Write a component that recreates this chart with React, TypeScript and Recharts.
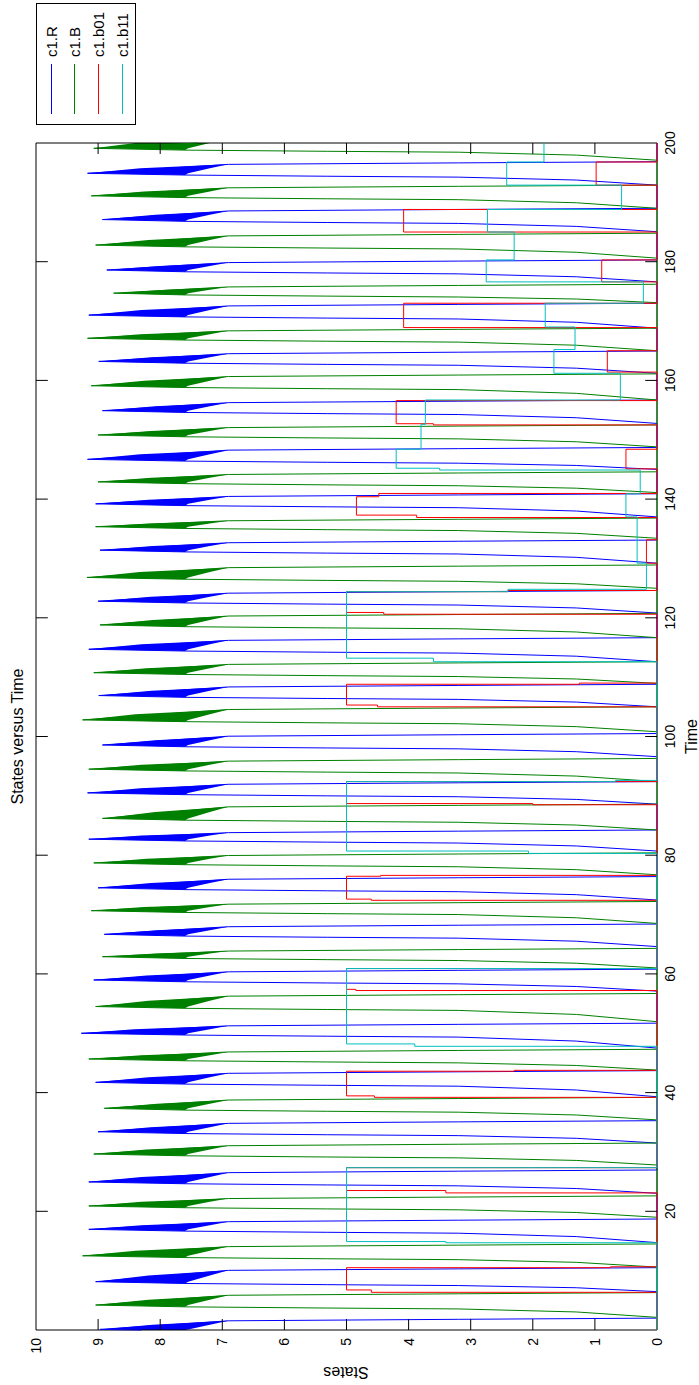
import { ComposedChart, Line, Area, XAxis, YAxis, ReferenceLine, ReferenceArea } from "recharts"

// MATLAB "States versus Time" plot, drawn upright and turned -90deg like the source image
const FONT = "'Liberation Sans', Arial, sans-serif"

const timeTicks = [20, 40, 60, 80, 100, 120, 140, 160, 180, 200]
const stateTicks = [0, 1, 2, 3, 4, 5, 6, 7, 8, 9, 10]
const innerTimeTicks = [20, 40, 60, 80, 100, 120, 140, 160, 180]
const innerStateTicks = [1, 2, 3, 4, 5, 6, 7, 8, 9]

// c1.R (blue) [time, state]
const rTrace = [
  [0, 8.3], [0.1, 8.97], [1.55, 6.9], [1.8, 3.2], [2.0, 0],
  [6.46, 0], [7.12, 1.3], [7.49, 3.2], [7.64, 5.3], [7.84, 7.6], [8.14, 9.04], [10.05, 6.9], [10.3, 3.2], [10.5, 0],
  [14.72, 0], [15.74, 1.3], [16.31, 3.2], [16.46, 5.3], [16.66, 7.6], [16.96, 9.15], [18.25, 6.9], [18.5, 3.2], [18.7, 0],
  [23.03, 0], [23.84, 1.3], [24.29, 3.2], [24.44, 5.3], [24.64, 7.6], [24.94, 9.15], [26.51, 6.9], [26.76, 3.2], [26.96, 0],
  [31.5, 0], [32.3, 1.3], [32.75, 3.2], [32.9, 5.3], [33.1, 7.6], [33.4, 9.0], [34.82, 6.9], [35.07, 3.2], [35.27, 0],
  [39.3, 0], [40.44, 1.3], [41.08, 3.2], [41.23, 5.3], [41.43, 7.6], [41.73, 9.04], [43.25, 6.9], [43.5, 3.2], [43.7, 0],
  [47.5, 0], [48.68, 1.3], [49.35, 3.2], [49.5, 5.3], [49.7, 7.6], [50.0, 9.27], [51.25, 6.9], [51.5, 3.2], [51.7, 0],
  [57.1, 0], [57.88, 1.3], [58.32, 3.2], [58.47, 5.3], [58.67, 7.6], [58.97, 9.07], [60.35, 6.9], [60.6, 3.2], [60.8, 0],
  [64.6, 0], [65.51, 1.3], [66.02, 3.2], [66.17, 5.3], [66.37, 7.6], [66.67, 8.9], [67.95, 6.9], [68.2, 3.2], [68.4, 0],
  [72.45, 0], [73.35, 1.3], [73.85, 3.2], [74.0, 5.3], [74.2, 7.6], [74.5, 9.0], [75.95, 6.9], [76.2, 3.2], [76.4, 0],
  [80.7, 0], [81.56, 1.3], [82.05, 3.2], [82.2, 5.3], [82.4, 7.6], [82.7, 9.15], [83.8, 6.9], [84.05, 3.2], [84.25, 0],
  [88.6, 0], [89.4, 1.3], [89.85, 3.2], [90.0, 5.3], [90.2, 7.6], [90.5, 9.17], [91.95, 6.9], [92.2, 3.2], [92.4, 0],
  [96.6, 0], [97.44, 1.3], [97.92, 3.2], [98.07, 5.3], [98.27, 7.6], [98.57, 8.93], [100.05, 6.9], [100.3, 3.2], [100.5, 0],
  [105.0, 0], [105.8, 1.3], [106.25, 3.2], [106.4, 5.3], [106.6, 7.6], [106.9, 8.99], [108.35, 6.9], [108.6, 3.2], [108.8, 0],
  [112.6, 0], [113.53, 1.3], [114.05, 3.2], [114.2, 5.3], [114.4, 7.6], [114.7, 9.15], [116.2, 6.9], [116.45, 3.2], [116.65, 0],
  [120.8, 0], [121.66, 1.3], [122.15, 3.2], [122.3, 5.3], [122.5, 7.6], [122.8, 9.0], [124.15, 6.9], [124.4, 3.2], [124.6, 0],
  [129.2, 0], [130.19, 1.3], [130.75, 3.2], [130.9, 5.3], [131.1, 7.6], [131.4, 8.97], [132.65, 6.9], [132.9, 3.2], [133.1, 0],
  [137.0, 0], [137.99, 1.3], [138.55, 3.2], [138.7, 5.3], [138.9, 7.6], [139.2, 9.04], [140.45, 6.9], [140.7, 3.2], [140.9, 0],
  [145.0, 0], [145.67, 1.3], [146.05, 3.2], [146.2, 5.3], [146.4, 7.6], [146.7, 9.17], [148.25, 6.9], [148.5, 3.2], [148.7, 0],
  [152.75, 0], [153.71, 1.3], [154.25, 3.2], [154.4, 5.3], [154.6, 7.6], [154.9, 8.93], [156.25, 6.9], [156.5, 3.2], [156.7, 0],
  [161.2, 0], [162.06, 1.3], [162.55, 3.2], [162.7, 5.3], [162.9, 7.6], [163.2, 8.99], [164.5, 6.9], [164.75, 3.2], [164.95, 0],
  [168.8, 0], [169.79, 1.3], [170.35, 3.2], [170.5, 5.3], [170.7, 7.6], [171.0, 9.15], [172.55, 6.9], [172.8, 3.2], [173.0, 0],
  [176.6, 0], [177.46, 1.3], [177.95, 3.2], [178.1, 5.3], [178.3, 7.6], [178.6, 8.86], [179.85, 6.9], [180.1, 3.2], [180.3, 0],
  [185.05, 0], [185.95, 1.3], [186.45, 3.2], [186.6, 5.3], [186.8, 7.6], [187.1, 8.93], [188.55, 6.9], [188.8, 3.2], [189.0, 0],
  [192.9, 0], [193.76, 1.3], [194.25, 3.2], [194.4, 5.3], [194.6, 7.6], [194.9, 9.17], [196.4, 6.9], [196.65, 3.2], [196.85, 0],
  [200, 0],
]

// noisy band near each c1.R peak [time, low, high]
const rNoise = [
  [0, 7.6, 8.3], [0.1, 7.55, 8.97], [0.9, 7.2, 8.12], [1.55, 6.9, 6.9],
  [7.84, 7.6, 7.6], [8.14, 7.55, 9.04], [9.19, 7.2, 8.19], [10.05, 6.9, 6.9],
  [16.66, 7.6, 7.6], [16.96, 7.55, 9.15], [17.67, 7.2, 8.3], [18.25, 6.9, 6.9],
  [24.64, 7.6, 7.6], [24.94, 7.55, 9.15], [25.8, 7.2, 8.3], [26.51, 6.9, 6.9],
  [33.1, 7.6, 7.6], [33.4, 7.55, 9.0], [34.18, 7.2, 8.15], [34.82, 6.9, 6.9],
  [41.43, 7.6, 7.6], [41.73, 7.55, 9.04], [42.57, 7.2, 8.19], [43.25, 6.9, 6.9],
  [49.7, 7.6, 7.6], [50.0, 7.55, 9.27], [50.69, 7.2, 8.42], [51.25, 6.9, 6.9],
  [58.67, 7.6, 7.6], [58.97, 7.55, 9.07], [59.73, 7.2, 8.22], [60.35, 6.9, 6.9],
  [66.37, 7.6, 7.6], [66.67, 7.55, 8.9], [67.37, 7.2, 8.05], [67.95, 6.9, 6.9],
  [74.2, 7.6, 7.6], [74.5, 7.55, 9.0], [75.3, 7.2, 8.15], [75.95, 6.9, 6.9],
  [82.4, 7.6, 7.6], [82.7, 7.55, 9.15], [83.3, 7.2, 8.3], [83.8, 6.9, 6.9],
  [90.2, 7.6, 7.6], [90.5, 7.55, 9.17], [91.3, 7.2, 8.32], [91.95, 6.9, 6.9],
  [98.27, 7.6, 7.6], [98.57, 7.55, 8.93], [99.38, 7.2, 8.08], [100.05, 6.9, 6.9],
  [106.6, 7.6, 7.6], [106.9, 7.55, 8.99], [107.7, 7.2, 8.14], [108.35, 6.9, 6.9],
  [114.4, 7.6, 7.6], [114.7, 7.55, 9.15], [115.53, 7.2, 8.3], [116.2, 6.9, 6.9],
  [122.5, 7.6, 7.6], [122.8, 7.55, 9.0], [123.54, 7.2, 8.15], [124.15, 6.9, 6.9],
  [131.1, 7.6, 7.6], [131.4, 7.55, 8.97], [132.09, 7.2, 8.12], [132.65, 6.9, 6.9],
  [138.9, 7.6, 7.6], [139.2, 7.55, 9.04], [139.89, 7.2, 8.19], [140.45, 6.9, 6.9],
  [146.4, 7.6, 7.6], [146.7, 7.55, 9.17], [147.55, 7.2, 8.32], [148.25, 6.9, 6.9],
  [154.6, 7.6, 7.6], [154.9, 7.55, 8.93], [155.64, 7.2, 8.08], [156.25, 6.9, 6.9],
  [162.9, 7.6, 7.6], [163.2, 7.55, 8.99], [163.92, 7.2, 8.14], [164.5, 6.9, 6.9],
  [170.7, 7.6, 7.6], [171.0, 7.55, 9.15], [171.85, 7.2, 8.3], [172.55, 6.9, 6.9],
  [178.3, 7.6, 7.6], [178.6, 7.55, 8.86], [179.29, 7.2, 8.01], [179.85, 6.9, 6.9],
  [186.8, 7.6, 7.6], [187.1, 7.55, 8.93], [187.9, 7.2, 8.08], [188.55, 6.9, 6.9],
  [194.6, 7.6, 7.6], [194.9, 7.55, 9.17], [195.73, 7.2, 8.32], [196.4, 6.9, 6.9],
]

// c1.B (green)
const bTrace = [
  [0, 0],
  [2.13, 0], [3.04, 1.3], [3.55, 3.2], [3.7, 5.3], [3.9, 7.6], [4.2, 9.04], [5.85, 6.9], [6.1, 3.2], [6.3, 0],
  [10.6, 0], [11.4, 1.3], [11.85, 3.2], [12.0, 5.3], [12.2, 7.6], [12.5, 9.25], [14.05, 6.9], [14.3, 3.2], [14.5, 0],
  [19.0, 0], [19.8, 1.3], [20.25, 3.2], [20.4, 5.3], [20.6, 7.6], [20.9, 9.15], [22.15, 6.9], [22.4, 3.2], [22.6, 0],
  [27.8, 0], [28.57, 1.3], [29.0, 3.2], [29.15, 5.3], [29.35, 7.6], [29.65, 9.07], [31.05, 6.9], [31.3, 3.2], [31.5, 0],
  [35.4, 0], [36.23, 1.3], [36.7, 3.2], [36.85, 5.3], [37.05, 7.6], [37.35, 8.9], [38.75, 6.9], [39.0, 3.2], [39.2, 0],
  [43.8, 0], [44.57, 1.3], [45.01, 3.2], [45.16, 5.3], [45.36, 7.6], [45.66, 9.15], [46.85, 6.9], [47.1, 3.2], [47.3, 0],
  [51.95, 0], [53.17, 1.3], [53.85, 3.2], [54.0, 5.3], [54.2, 7.6], [54.5, 9.04], [56.25, 6.9], [56.5, 3.2], [56.7, 0],
  [61.0, 0], [61.8, 1.3], [62.25, 3.2], [62.4, 5.3], [62.6, 7.6], [62.9, 8.93], [63.85, 6.9], [64.1, 3.2], [64.3, 0],
  [68.5, 0], [69.46, 1.3], [70.0, 3.2], [70.15, 5.3], [70.35, 7.6], [70.65, 9.11], [71.75, 6.9], [72.0, 3.2], [72.2, 0],
  [76.7, 0], [77.56, 1.3], [78.05, 3.2], [78.2, 5.3], [78.4, 7.6], [78.7, 9.07], [79.95, 6.9], [80.2, 3.2], [80.4, 0],
  [84.25, 0], [85.08, 1.3], [85.55, 3.2], [85.7, 5.3], [85.9, 7.6], [86.2, 8.93], [88.15, 6.9], [88.4, 3.2], [88.6, 0],
  [92.4, 0], [93.33, 1.3], [93.85, 3.2], [94.0, 5.3], [94.2, 7.6], [94.5, 9.15], [95.85, 6.9], [96.1, 3.2], [96.3, 0],
  [100.8, 0], [101.66, 1.3], [102.15, 3.2], [102.3, 5.3], [102.5, 7.6], [102.8, 9.25], [104.55, 6.9], [104.8, 3.2], [105.0, 0],
  [108.95, 0], [109.69, 1.3], [110.1, 3.2], [110.25, 5.3], [110.45, 7.6], [110.75, 9.07], [112.15, 6.9], [112.4, 3.2], [112.6, 0],
  [116.65, 0], [117.61, 1.3], [118.15, 3.2], [118.3, 5.3], [118.5, 7.6], [118.8, 8.97], [120.3, 6.9], [120.55, 3.2], [120.75, 0],
  [124.97, 0], [125.73, 1.3], [126.15, 3.2], [126.3, 5.3], [126.5, 7.6], [126.8, 9.18], [128.45, 6.9], [128.7, 3.2], [128.9, 0],
  [133.4, 0], [134.23, 1.3], [134.7, 3.2], [134.85, 5.3], [135.05, 7.6], [135.35, 9.04], [136.35, 6.9], [136.6, 3.2], [136.8, 0],
  [141.1, 0], [141.84, 1.3], [142.25, 3.2], [142.4, 5.3], [142.6, 7.6], [142.9, 9.0], [144.15, 6.9], [144.4, 3.2], [144.6, 0],
  [148.8, 0], [149.66, 1.3], [150.15, 3.2], [150.3, 5.3], [150.5, 7.6], [150.8, 9.0], [152.05, 6.9], [152.3, 3.2], [152.5, 0],
  [156.7, 0], [157.82, 1.3], [158.45, 3.2], [158.6, 5.3], [158.8, 7.6], [159.1, 9.11], [160.65, 6.9], [160.9, 3.2], [161.1, 0],
  [165.0, 0], [165.93, 1.3], [166.45, 3.2], [166.6, 5.3], [166.8, 7.6], [167.1, 9.17], [168.35, 6.9], [168.6, 3.2], [168.8, 0],
  [173.1, 0], [173.71, 1.3], [174.05, 3.2], [174.2, 5.3], [174.4, 7.6], [174.7, 8.75], [175.75, 6.9], [176.0, 3.2], [176.2, 0],
  [180.6, 0], [181.59, 1.3], [182.15, 3.2], [182.3, 5.3], [182.5, 7.6], [182.8, 9.04], [184.35, 6.9], [184.6, 3.2], [184.8, 0],
  [189.0, 0], [189.93, 1.3], [190.45, 3.2], [190.6, 5.3], [190.8, 7.6], [191.1, 9.11], [192.45, 6.9], [192.7, 3.2], [192.9, 0],
  [197.1, 0], [197.96, 1.3], [198.45, 3.2], [198.6, 5.3], [198.8, 7.6], [199.1, 9.07], [200, 7.4],
]

const bNoise = [
  [3.9, 7.6, 7.6], [4.2, 7.55, 9.04], [5.11, 7.2, 8.19], [5.85, 6.9, 6.9],
  [12.2, 7.6, 7.6], [12.5, 7.55, 9.25], [13.35, 7.2, 8.4], [14.05, 6.9, 6.9],
  [20.6, 7.6, 7.6], [20.9, 7.55, 9.15], [21.59, 7.2, 8.3], [22.15, 6.9, 6.9],
  [29.35, 7.6, 7.6], [29.65, 7.55, 9.07], [30.42, 7.2, 8.22], [31.05, 6.9, 6.9],
  [37.05, 7.6, 7.6], [37.35, 7.55, 8.9], [38.12, 7.2, 8.05], [38.75, 6.9, 6.9],
  [45.36, 7.6, 7.6], [45.66, 7.55, 9.15], [46.31, 7.2, 8.3], [46.85, 6.9, 6.9],
  [54.2, 7.6, 7.6], [54.5, 7.55, 9.04], [55.46, 7.2, 8.19], [56.25, 6.9, 6.9],
  [62.6, 7.6, 7.6], [62.9, 7.55, 8.93], [63.42, 7.2, 8.08], [63.85, 6.9, 6.9],
  [70.35, 7.6, 7.6], [70.65, 7.55, 9.11], [71.26, 7.2, 8.26], [71.75, 6.9, 6.9],
  [78.4, 7.6, 7.6], [78.7, 7.55, 9.07], [79.39, 7.2, 8.22], [79.95, 6.9, 6.9],
  [85.9, 7.6, 7.6], [86.2, 7.55, 8.93], [87.27, 7.2, 8.08], [88.15, 6.9, 6.9],
  [94.2, 7.6, 7.6], [94.5, 7.55, 9.15], [95.24, 7.2, 8.3], [95.85, 6.9, 6.9],
  [102.5, 7.6, 7.6], [102.8, 7.55, 9.25], [103.76, 7.2, 8.4], [104.55, 6.9, 6.9],
  [110.45, 7.6, 7.6], [110.75, 7.55, 9.07], [111.52, 7.2, 8.22], [112.15, 6.9, 6.9],
  [118.5, 7.6, 7.6], [118.8, 7.55, 8.97], [119.63, 7.2, 8.12], [120.3, 6.9, 6.9],
  [126.5, 7.6, 7.6], [126.8, 7.55, 9.18], [127.71, 7.2, 8.33], [128.45, 6.9, 6.9],
  [135.05, 7.6, 7.6], [135.35, 7.55, 9.04], [135.9, 7.2, 8.19], [136.35, 6.9, 6.9],
  [142.6, 7.6, 7.6], [142.9, 7.55, 9.0], [143.59, 7.2, 8.15], [144.15, 6.9, 6.9],
  [150.5, 7.6, 7.6], [150.8, 7.55, 9.0], [151.49, 7.2, 8.15], [152.05, 6.9, 6.9],
  [158.8, 7.6, 7.6], [159.1, 7.55, 9.11], [159.95, 7.2, 8.26], [160.65, 6.9, 6.9],
  [166.8, 7.6, 7.6], [167.1, 7.55, 9.17], [167.79, 7.2, 8.32], [168.35, 6.9, 6.9],
  [174.4, 7.6, 7.6], [174.7, 7.55, 8.75], [175.28, 7.2, 7.9], [175.75, 6.9, 6.9],
  [182.5, 7.6, 7.6], [182.8, 7.55, 9.04], [183.65, 7.2, 8.19], [184.35, 6.9, 6.9],
  [190.8, 7.6, 7.6], [191.1, 7.55, 9.11], [191.84, 7.2, 8.26], [192.45, 6.9, 6.9],
  [198.8, 7.6, 7.6], [199.1, 7.55, 9.07], [200, 7.2, 8.4],
]

// c1.b01 (red), held between samples
const b01Steps = [
  [0, 0], [6.35, 4.6], [6.75, 5.0], [10.5, 0.75], [10.65, 0],
  [23.1, 3.4], [23.5, 5.0], [27.35, 0],
  [39.2, 4.55], [39.45, 5.0], [43.6, 2.3], [43.75, 0],
  [57.2, 4.85], [57.4, 5.0], [60.9, 0],
  [72.4, 4.6], [72.6, 5.0], [76.45, 4.45], [76.6, 0],
  [88.5, 2.0], [88.7, 5.0], [92.4, 0],
  [105.0, 4.5], [105.3, 5.0], [108.8, 1.25], [109.0, 0],
  [120.6, 4.4], [120.9, 5.0], [124.4, 2.4], [124.6, 0],
  [129.2, 0.17], [133.15, 0],
  [136.9, 3.87], [137.3, 4.84], [140.4, 4.48], [140.95, 0],
  [145.1, 0.5], [148.4, 0],
  [152.5, 3.6], [152.7, 4.2], [156.6, 0],
  [161.4, 0.8], [165.0, 0],
  [168.9, 4.08], [173.0, 0],
  [176.6, 0.89], [180.3, 0],
  [185.0, 4.08], [188.8, 0],
  [192.9, 0.98], [196.8, 0],
  [200, 0],
]

// c1.b11 (cyan), held between samples
const b11Steps = [
  [0, 0], [14.7, 3.4], [14.9, 5.0], [27.35, 0],
  [47.8, 3.9], [48.2, 5.0], [60.9, 0],
  [80.3, 2.07], [80.7, 5.0], [92.4, 0.67], [92.6, 0],
  [112.6, 3.6], [113.2, 5.0], [124.4, 2.4], [124.8, 0.17],
  [129.2, 0.32], [137.0, 0.5], [140.9, 0.27], [144.9, 3.5], [145.2, 4.2], [148.4, 3.8], [152.6, 3.73], [156.7, 0.59],
  [161.2, 1.66], [165.2, 1.32], [169.0, 1.8], [173.0, 0.22], [176.6, 2.75], [180.3, 2.3], [185.0, 2.73],
  [188.8, 0.57], [192.9, 2.42], [196.8, 1.82], [200, 1.82],
]

const legendItems = [
  { name: "c1.R", color: "#0000ff" },
  { name: "c1.B", color: "#008000" },
  { name: "c1.b01", color: "#ff0000" },
  { name: "c1.b11", color: "#00bfbf" },
]

const pts = (rows: number[][]) => rows.map(([t, s]) => ({ t, s }))
const band = (rows: number[][]) => rows.map(([t, lo, hi]) => ({ t, band: [lo, hi] }))

const tickStyle = { fill: "#000", fontSize: 14, fontFamily: FONT }

export default function App() {
  return (
    <div style={{ position: "fixed", left: 0, top: 0, width: 699, height: 1385, overflow: "hidden", background: "#fff" }}>
      <div
        style={{
          position: "absolute",
          left: 0,
          top: 0,
          width: 1385,
          height: 699,
          transformOrigin: "0 0",
          transform: "translate(0px, 1385px) rotate(-90deg)",
          fontFamily: FONT,
        }}
      >
        <ComposedChart width={1385} height={699} margin={{ top: 36, right: 143, bottom: 2, left: 8 }}>
          <XAxis
            type="number"
            dataKey="t"
            domain={[0, 200]}
            ticks={timeTicks}
            interval={0}
            height={40}
            tickLine={false}
            axisLine={false}
            tickSize={0}
            tickMargin={8}
            tick={tickStyle}
            label={{ value: "Time", position: "insideBottom", offset: 0, fill: "#000", fontSize: 16, fontFamily: FONT }}
          />
          <YAxis
            type="number"
            domain={[0, 10]}
            ticks={stateTicks}
            interval={0}
            width={47}
            tickLine={false}
            axisLine={false}
            tickSize={0}
            tickMargin={8}
            tick={tickStyle}
          />

          <Area data={band(rNoise)} dataKey="band" type="linear" stroke="none" fill="#0000ff" fillOpacity={1} dot={false} activeDot={false} legendType="none" isAnimationActive={false} />
          <Line data={pts(rTrace)} dataKey="s" type="linear" stroke="#0000ff" strokeWidth={1} dot={false} activeDot={false} isAnimationActive={false} />
          <Area data={band(bNoise)} dataKey="band" type="linear" stroke="none" fill="#008000" fillOpacity={1} dot={false} activeDot={false} legendType="none" isAnimationActive={false} />
          <Line data={pts(bTrace)} dataKey="s" type="linear" stroke="#008000" strokeWidth={1} dot={false} activeDot={false} isAnimationActive={false} />
          <Line data={pts(b01Steps)} dataKey="s" type="stepAfter" stroke="#ff0000" strokeWidth={1} dot={false} activeDot={false} isAnimationActive={false} />
          <Line data={pts(b11Steps)} dataKey="s" type="stepAfter" stroke="#00bfbf" strokeWidth={1} dot={false} activeDot={false} isAnimationActive={false} />

          {innerTimeTicks.map((t) => (
            <ReferenceLine key={`tb${t}`} segment={[{ x: t, y: 0 }, { x: t, y: 0.19 }]} stroke="#000" strokeWidth={1} />
          ))}
          {innerTimeTicks.map((t) => (
            <ReferenceLine key={`tt${t}`} segment={[{ x: t, y: 10 }, { x: t, y: 9.81 }]} stroke="#000" strokeWidth={1} />
          ))}
          {innerStateTicks.map((s) => (
            <ReferenceLine key={`sl${s}`} segment={[{ x: 0, y: s }, { x: 1.85, y: s }]} stroke="#000" strokeWidth={1} />
          ))}
          {innerStateTicks.map((s) => (
            <ReferenceLine key={`sr${s}`} segment={[{ x: 200, y: s }, { x: 198.15, y: s }]} stroke="#000" strokeWidth={1} />
          ))}
          <ReferenceArea x1={0} x2={200} y1={0} y2={10} stroke="#000" strokeWidth={1} fill="none" fillOpacity={0} ifOverflow="visible" />
        </ComposedChart>

        {/* title */}
        <div style={{ position: "absolute", left: 55, width: 1187, top: 8, textAlign: "center", fontSize: 16, lineHeight: "20px", color: "#000" }}>
          States versus Time
        </div>

        {/* y label, turned like MATLAB's ylabel */}
        <div
          style={{
            position: "absolute",
            left: 13,
            top: 346,
            transform: "translate(-50%, -50%) rotate(-90deg)",
            fontSize: 16,
            lineHeight: "18px",
            whiteSpace: "nowrap",
            color: "#000",
          }}
        >
          States
        </div>

        {/* legend */}
        <div
          style={{
            position: "absolute",
            left: 1260,
            top: 36,
            width: 120,
            height: 98,
            border: "1px solid #000",
            background: "#fff",
            boxSizing: "content-box",
          }}
        >
          {legendItems.map((item, i) => (
            <div key={item.name} style={{ position: "absolute", left: 0, top: 4 + i * 23.7, height: 20, width: 120, display: "flex", alignItems: "center" }}>
              <div style={{ marginLeft: 10, width: 50, height: 0, borderTop: `1px solid ${item.color}` }} />
              <span style={{ marginLeft: 7, fontSize: 15, color: "#000", whiteSpace: "nowrap" }}>{item.name}</span>
            </div>
          ))}
        </div>
      </div>
    </div>
  )
}
